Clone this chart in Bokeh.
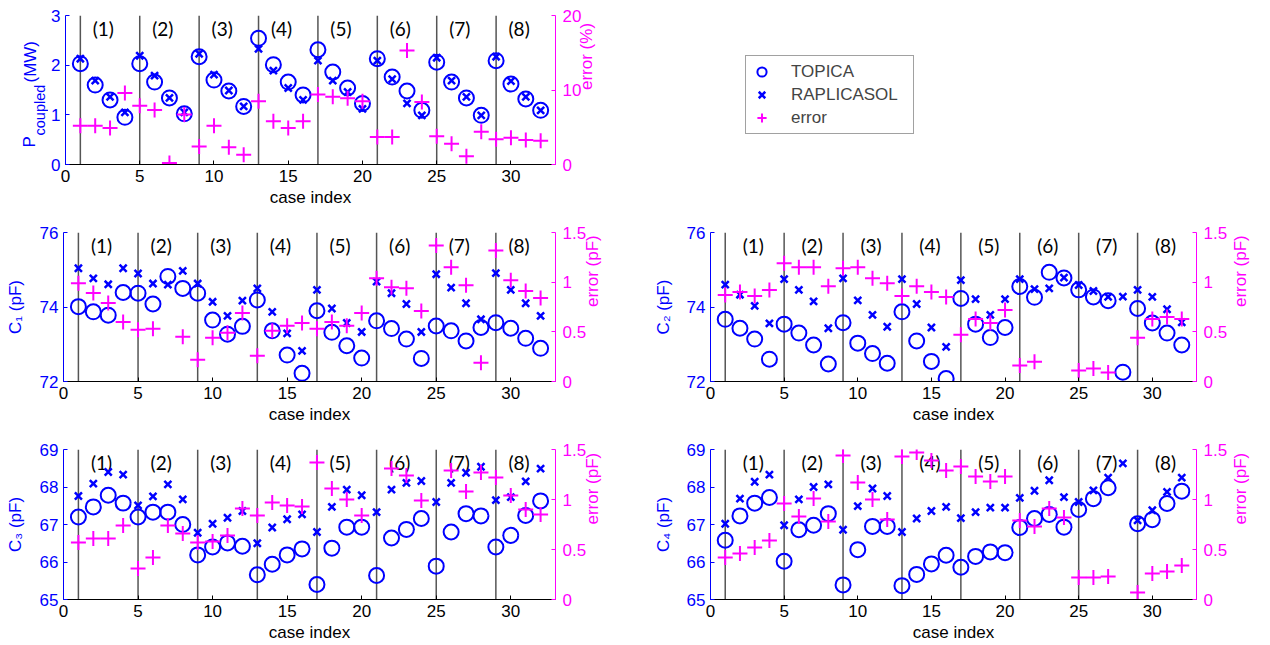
import math
from bokeh.plotting import figure
from bokeh.models import (Range1d, LinearAxis, FixedTicker, NumeralTickFormatter,
                          Span, Legend, LegendItem)
from bokeh.layouts import row, column
from bokeh.embed import file_html
from bokeh.resources import INLINE
from bokeh.core.properties import value

nan = float("nan")

# ---------------- data ----------------
case_index = list(range(1, 33))
group_starts = [1, 5, 9, 13, 17, 21, 25, 29]
group_labels = ["(1)", "(2)", "(3)", "(4)", "(5)", "(6)", "(7)", "(8)"]
x_ticks = [0, 5, 10, 15, 20, 25, 30]

p_topica = [2.03, 1.60, 1.30, 0.95, 2.03, 1.66, 1.34, 1.02,
            2.17, 1.70, 1.48, 1.17, 2.54, 2.01, 1.66, 1.40,
            2.31, 1.86, 1.54, 1.23, 2.13, 1.76, 1.48, 1.09,
            2.06, 1.66, 1.34, 0.99, 2.09, 1.62, 1.32, 1.09]
p_raplicasol = [2.13, 1.69, 1.36, 1.05, 2.19, 1.79, 1.34, 1.05,
                2.23, 1.81, 1.49, 1.17, 2.33, 1.89, 1.54, 1.30,
                2.09, 1.69, 1.46, 1.12, 2.09, 1.72, 1.23, 0.99,
                2.15, 1.69, 1.36, 0.99, 2.17, 1.68, 1.36, 1.09]
p_error = [5.2, 5.2, 4.9, 9.6, 7.9, 7.3, 0.2, 6.7,
           2.4, 5.2, 2.3, 1.3, 8.5, 5.8, 4.9, 5.8,
           9.4, 9.1, 8.9, 8.5, 3.7, 3.7, 15.3, 8.4,
           3.8, 2.8, 1.1, 4.4, 3.4, 3.6, 3.3, 3.2]

c1_topica = [74.01, 73.87, 73.78, 74.39, 74.37, 74.08, 74.82, 74.50,
             74.37, 73.65, 73.27, 73.48, 74.19, 73.36, 72.71, 72.22,
             73.90, 73.32, 72.96, 72.63, 73.63, 73.42, 73.14, 72.62,
             73.49, 73.36, 73.09, 73.45, 73.58, 73.43, 73.16, 72.89]
c1_raplicasol = [75.04, 74.77, 74.61, 75.04, 74.90, 74.63, 74.60, 74.97,
                 74.63, 74.14, 73.76, 74.17, 74.50, 73.87, 73.29, 72.82,
                 74.46, 73.96, 73.57, 73.33, 74.68, 74.37, 74.08, 73.33,
                 74.88, 74.52, 74.10, 73.67, 74.91, 74.46, 74.10, 73.76]
c1_error = [0.99, 0.89, 0.79, 0.60, 0.52, 0.53, nan, 0.45,
            0.22, 0.44, 0.49, 0.69, 0.26, 0.51, 0.56, 0.59,
            0.53, 0.60, 0.56, 0.69, 1.04, 0.95, 0.94, 0.71,
            1.37, 1.15, 0.97, 0.19, 1.32, 1.02, 0.91, 0.84]

c2_topica = [73.67, 73.43, 73.14, 72.60, 73.54, 73.30, 72.98, 72.47,
             73.58, 73.03, 72.75, 72.49, 73.87, 73.09, 72.54, 72.08,
             74.23, 73.54, 73.18, 73.45, 74.55, 74.26, 74.93, 74.78,
             74.46, 74.27, 74.17, 72.25, 73.96, 73.57, 73.30, 72.98]
c2_raplicasol = [74.60, 74.33, 74.03, 73.56, 74.75, 74.46, 74.15, 73.43,
                 74.77, 74.18, 73.79, 73.47, 74.75, 74.08, 73.45, 72.93,
                 74.72, 74.21, 73.79, 74.21, 74.75, 74.48, 74.50, 74.79,
                 74.59, 74.43, 74.27, 74.28, 74.46, 74.27, 73.94, 73.59]
c2_error = [0.87, 0.90, 0.86, 0.92, 1.19, 1.15, 1.15, 0.96,
            1.14, 1.15, 1.04, 0.99, 0.86, 0.96, 0.90, 0.85,
            0.47, 0.63, 0.59, 0.72, 0.16, 0.20, nan, nan,
            0.11, 0.13, 0.09, nan, 0.44, 0.63, 0.65, 0.63]

c3_topica = [67.20, 67.47, 67.78, 67.57, 67.20, 67.33, 67.33, 67.00,
             66.19, 66.40, 66.51, 66.42, 65.66, 65.94, 66.19, 66.35,
             65.40, 66.37, 66.93, 66.93, 65.64, 66.64, 66.87, 67.16,
             65.89, 66.80, 67.29, 67.23, 66.40, 66.71, 67.24, 67.63]
c3_raplicasol = [67.76, 68.09, 68.40, 68.33, 67.51, 67.75, 68.07, 67.67,
                 66.78, 67.02, 67.18, 67.36, 66.50, 66.92, 67.14, 67.27,
                 66.80, 67.47, 67.93, 67.78, 67.33, 67.93, 68.11, 68.16,
                 67.60, 68.11, 68.38, 68.54, 67.65, 67.73, 68.15, 68.49]
c3_error = [0.57, 0.61, 0.61, 0.74, 0.31, 0.42, 0.74, 0.66,
            0.57, 0.58, 0.64, 0.91, 0.84, 0.97, 0.94, 0.93,
            1.37, 1.11, 1.00, 0.84, nan, 1.31, 1.24, 0.99,
            nan, 1.29, 1.08, 1.27, 1.22, 1.04, 0.90, 0.85]

c4_topica = [66.58, 67.23, 67.57, 67.72, 66.02, 66.86, 66.98, 67.29,
             65.39, 66.33, 66.95, 66.95, 65.37, 65.67, 65.95, 66.18,
             65.86, 66.15, 66.27, 66.25, 66.92, 67.16, 67.27, 66.93,
             67.40, 67.69, 67.98, nan, 67.02, 67.13, 67.56, 67.89]
c4_raplicasol = [67.02, 67.69, 68.14, 68.33, 66.98, 67.67, 68.00, 68.07,
                 66.86, 67.49, 67.96, 67.76, 66.80, 67.16, 67.36, 67.47,
                 67.17, 67.33, 67.45, 67.45, 67.71, 67.90, 68.18, 67.73,
                 67.60, 67.91, 68.25, 68.63, 67.11, 67.38, 67.87, 68.25]
c4_error = [0.42, 0.46, 0.52, 0.59, 0.96, 0.83, 1.01, 0.78,
            1.44, 1.17, 1.00, 0.80, 1.43, 1.47, 1.39, 1.29,
            1.33, 1.23, 1.18, 1.23, 0.79, 0.73, 0.91, 0.82,
            0.22, 0.22, 0.23, nan, 0.07, 0.26, 0.28, 0.34]

# ---------------- style ----------------
BLUE = "#0000ff"
MAG = "#ff00ff"
GRID = "#555555"
FONT = "Liberation Sans"
FS = "17px"
X_MAX = 33


def style_axis(ax, ticks, color, standoff):
    ax.ticker = FixedTicker(ticks=ticks)
    ax.major_tick_in = 4
    ax.major_tick_out = 0
    ax.minor_tick_line_color = None
    ax.axis_line_color = color
    ax.major_tick_line_color = color
    ax.major_label_text_color = color
    ax.major_label_text_font = FONT
    ax.major_label_text_font_size = FS
    ax.major_label_standoff = standoff
    ax.axis_label_text_font = FONT
    ax.axis_label_text_font_size = FS
    ax.axis_label_text_font_style = "normal"
    ax.axis_label_text_color = color


def make_panel(width, height, b_left, b_right, b_top, b_bottom,
               y_rng, y_ticks, e_rng, e_ticks, topica, rap, err,
               ylabel, ylabel_standoff, elabel, elabel_standoff, glabel_off):
    p = figure(width=width, height=height, x_range=Range1d(0, X_MAX),
               y_range=Range1d(*y_rng), output_backend="svg",
               toolbar_location=None, min_border_left=b_left,
               min_border_right=b_right, min_border_top=b_top,
               min_border_bottom=b_bottom, background_fill_color="white",
               border_fill_color="white")
    p.outline_line_color = None
    p.xgrid.visible = False
    p.ygrid.visible = False
    p.extra_y_ranges = {"err": Range1d(*e_rng)}
    eaxis = LinearAxis(y_range_name="err")
    p.add_layout(eaxis, "right")

    xa = p.xaxis[0]
    style_axis(xa, x_ticks, "black", 5)
    xa.axis_label = "case index"
    xa.axis_label_standoff = 3

    ya = p.yaxis[0]
    style_axis(ya, y_ticks, BLUE, 5)
    if ylabel:
        ya.axis_label = ylabel
        ya.axis_label_standoff = ylabel_standoff

    style_axis(eaxis, e_ticks, MAG, 7)
    eaxis.formatter = NumeralTickFormatter(format="0.[0]")
    eaxis.axis_label = elabel
    eaxis.axis_label_standoff = elabel_standoff
    try:
        eaxis.axis_label_orientation = math.pi / 2
    except Exception:
        pass

    for s in group_starts:
        p.add_layout(Span(location=s, dimension="height", line_color=GRID,
                          line_width=1.5, level="underlay"))

    p.text(x=[s + glabel_off for s in group_starts], y=[y_rng[1]] * len(group_starts),
           text=group_labels, text_align="center", text_baseline="top",
           y_offset=1, text_font=value("Lato"), text_font_size="19px",
           text_color="black")

    p.scatter(case_index, topica, marker="circle", size=15, fill_color=None,
              line_color=BLUE, line_width=2)
    p.scatter(case_index, rap, marker="x", size=10, line_color=BLUE,
              line_width=2.5)
    p.scatter(case_index, err, marker="cross", size=15, line_color=MAG,
              line_width=2, y_range_name="err")
    return p


T1, B1 = 15, 46
H1 = T1 + 149 + B1
H2 = 22 + 149 + 46
H3 = 22 + 150 + 45
LAB_W = 48

# top-left: y label in its own narrow strip (needs a subscript)
p_lab = figure(width=LAB_W, height=H1, x_range=Range1d(0, LAB_W),
               y_range=Range1d(B1, H1 - T1),
               output_backend="svg", toolbar_location=None, min_border_left=0,
               min_border_right=0, min_border_top=T1, min_border_bottom=B1,
               x_axis_location=None, y_axis_location=None)
p_lab.outline_line_color = None
p_lab.xgrid.visible = False
p_lab.ygrid.visible = False
p_lab.text(x=[28.5], y=[H1 - 147], text=["P"], angle=math.pi / 2,
           text_align="left", text_baseline="alphabetic",
           text_font=value(FONT), text_font_size="17px", text_color=BLUE)
p_lab.text(x=[39], y=[H1 - 135], text=["coupled"], angle=math.pi / 2,
           text_align="left", text_baseline="alphabetic",
           text_font=value(FONT), text_font_size="14.5px", text_color=BLUE)
p_lab.text(x=[29.5], y=[H1 - 82], text=["(MW)"], angle=math.pi / 2,
           text_align="left", text_baseline="alphabetic",
           text_font=value(FONT), text_font_size="17px", text_color=BLUE)

p_top = make_panel(628 - LAB_W, H1, 63 - LAB_W, 73, T1, B1, (0, 3), [0, 1, 2, 3],
                   (0, 20), [0, 10, 20], p_topica, p_raplicasol, p_error,
                   None, 0, "error (%)", 2, 1.55)

p_c1 = make_panel(628, H2, 63, 73, 22, 46, (72, 76), [72, 74, 76], (0, 1.5), [0, 0.5, 1, 1.5],
                  c1_topica, c1_raplicasol, c1_error,
                  "C\u2081 (pF)", 12, "error (pF)", 3, 1.55)
p_c2 = make_panel(634, H2, 82, 62, 22, 46, (72, 76), [72, 74, 76], (0, 1.5), [0, 0.5, 1, 1.5],
                  c2_topica, c2_raplicasol, c2_error,
                  "C\u2082 (pF)", 11, "error (pF)", 10, 1.9)
p_c3 = make_panel(628, H3, 63, 73, 22, 45, (65, 69), [65, 66, 67, 68, 69], (0, 1.5), [0, 0.5, 1, 1.5],
                  c3_topica, c3_raplicasol, c3_error,
                  "C\u2083 (pF)", 12, "error (pF)", 3, 1.55)
p_c4 = make_panel(634, H3, 82, 62, 22, 45, (65, 69), [65, 66, 67, 68, 69], (0, 1.5), [0, 0.5, 1, 1.5],
                  c4_topica, c4_raplicasol, c4_error,
                  "C\u2084 (pF)", 11, "error (pF)", 10, 1.9)

# legend panel (renderers hold the real series, but the view range shows none of them)
p_leg = figure(width=634, height=H1, x_range=Range1d(-3, -2), y_range=Range1d(-3, -2),
               output_backend="svg", toolbar_location=None,
               min_border_left=77, min_border_top=T1, min_border_right=0,
               min_border_bottom=B1, x_axis_location=None, y_axis_location=None)
p_leg.outline_line_color = None
p_leg.xgrid.visible = False
p_leg.ygrid.visible = False
r1 = p_leg.scatter(case_index, p_topica, marker="circle", fill_color=None,
                   line_color=BLUE, line_width=2)
r2 = p_leg.scatter(case_index, p_raplicasol, marker="x", line_color=BLUE, line_width=2.5)
r3 = p_leg.scatter(case_index, p_error, marker="cross", line_color=MAG, line_width=2)
legend = Legend(items=[LegendItem(label="TOPICA", renderers=[r1]),
                       LegendItem(label="RAPLICASOL", renderers=[r2]),
                       LegendItem(label="error", renderers=[r3])],
                location="top_left", glyph_width=23, glyph_height=23,
                label_height=20, spacing=0, padding=4, margin=40,
                label_standoff=18, label_width=118,
                label_text_font=FONT, label_text_font_size=FS,
                border_line_color="#444444", border_line_width=1,
                background_fill_color="white", background_fill_alpha=1)
p_leg.add_layout(legend, "center")

layout = column(row(p_lab, p_top, p_leg, spacing=0),
                row(p_c1, p_c2, spacing=0),
                row(p_c3, p_c4, spacing=0), spacing=0)

open("out.html", "w").write(file_html(layout, INLINE))
